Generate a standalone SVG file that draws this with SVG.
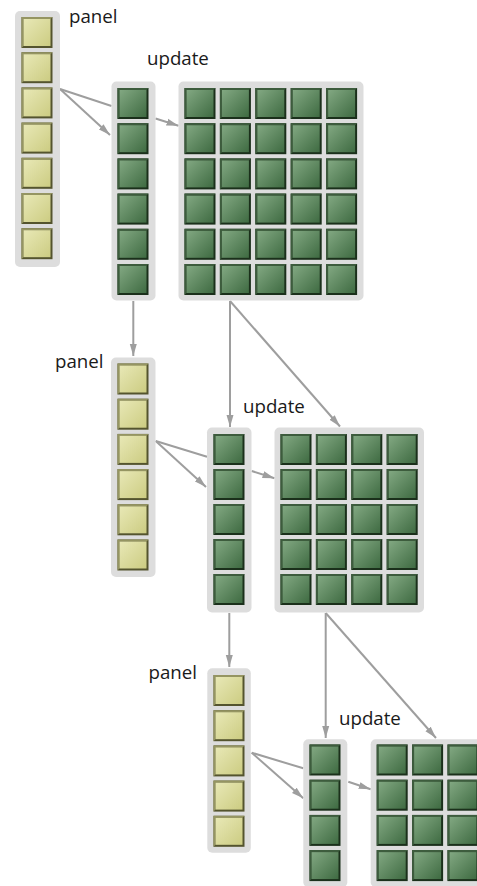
<svg xmlns="http://www.w3.org/2000/svg" xmlns:xlink="http://www.w3.org/1999/xlink" width="477" height="886" viewBox="0 0 477 886">
<style>
.bg{fill:#dddddd}
.lbl{font-family:"Open Sans","Noto Sans","DejaVu Sans",sans-serif;font-size:18.7px;fill:#1a1a1a}
.cn line{stroke:#9e9e9e;stroke-width:2;fill:none}
.ah{marker-end:url(#arr)}
</style>
<defs>
<linearGradient id="yg" x1="0" y1="0" x2="1" y2="1">
<stop offset="0" stop-color="#e8e8b6"/>
<stop offset="1" stop-color="#cccc82"/>
</linearGradient>
<linearGradient id="gg" x1="0" y1="0" x2="1" y2="1">
<stop offset="0" stop-color="#82a882"/>
<stop offset="1" stop-color="#3f6b42"/>
</linearGradient>
<g id="yc">
<rect width="31" height="31" fill="#54542e"/>
<path d="M0,0 H31 L29,2 H2 V29 L0,31 Z" fill="#959562"/>
<rect x="2" y="2" width="27" height="27" fill="url(#yg)"/>
</g>
<g id="gc">
<rect width="31" height="31" fill="#1b301b"/>
<path d="M0,0 H31 L29,2 H2 V29 L0,31 Z" fill="#3d5c3d"/>
<rect x="2" y="2" width="27" height="27" fill="url(#gg)"/>
</g>
<marker id="arr" markerUnits="userSpaceOnUse" viewBox="0 -4 12 8" markerWidth="12" markerHeight="8" refX="12" refY="0" orient="auto">
<path d="M0,-3.5 L12,0 L0,3.5 Z" fill="#9e9e9e"/>
</marker>
</defs>

<g id="connectors" class="cn">
<line x1="60" y1="89" x2="111.5" y2="106"/>
<line class="ah" x1="60" y1="89" x2="110" y2="135"/>
<line class="ah" x1="155.5" y1="118.5" x2="178.5" y2="125.7"/>
<line class="ah" x1="133.3" y1="301" x2="133.3" y2="356"/>
<line class="ah" x1="230" y1="301" x2="230" y2="427"/>
<line class="ah" x1="230" y1="301" x2="340" y2="426.5"/>
<line x1="155.7" y1="441" x2="207" y2="456.7"/>
<line class="ah" x1="155.7" y1="441" x2="206" y2="487"/>
<line class="ah" x1="251.7" y1="471" x2="274.5" y2="478.3"/>
<line class="ah" x1="229.3" y1="613" x2="229.3" y2="667"/>
<line class="ah" x1="325.7" y1="613" x2="325.7" y2="738"/>
<line class="ah" x1="325.7" y1="613" x2="436" y2="738"/>
<line x1="251.7" y1="752.7" x2="303.3" y2="768.3"/>
<line class="ah" x1="251.7" y1="752.7" x2="303.3" y2="798.3"/>
<line class="ah" x1="348.3" y1="781.7" x2="370.7" y2="789.3"/>
</g>

<g id="panel1">
<rect class="bg" x="15" y="11" width="45" height="256" rx="5"/>
<use href="#yc" x="21.5" y="17"/>
<use href="#yc" x="21.5" y="52.2"/>
<use href="#yc" x="21.5" y="87.4"/>
<use href="#yc" x="21.5" y="122.6"/>
<use href="#yc" x="21.5" y="157.8"/>
<use href="#yc" x="21.5" y="193"/>
<use href="#yc" x="21.5" y="228.2"/>
<text class="lbl" x="69" y="22.5">panel</text>
</g>

<g id="column1">
<rect class="bg" x="111.5" y="81.5" width="44" height="219" rx="5"/>
<use href="#gc" x="117.5" y="88"/>
<use href="#gc" x="117.5" y="123.2"/>
<use href="#gc" x="117.5" y="158.4"/>
<use href="#gc" x="117.5" y="193.6"/>
<use href="#gc" x="117.5" y="228.8"/>
<use href="#gc" x="117.5" y="264"/>
<text class="lbl" x="147" y="65">update</text>
</g>

<g id="matrix1">
<rect class="bg" x="178.5" y="81.5" width="185" height="219" rx="5"/>
<g id="m1r">
<use href="#gc" x="184.5" y="88"/>
<use href="#gc" x="219.9" y="88"/>
<use href="#gc" x="255.3" y="88"/>
<use href="#gc" x="290.7" y="88"/>
<use href="#gc" x="326.1" y="88"/>
</g>
<use href="#m1r" y="35.2"/>
<use href="#m1r" y="70.4"/>
<use href="#m1r" y="105.6"/>
<use href="#m1r" y="140.8"/>
<use href="#m1r" y="176"/>
</g>

<g id="panel2">
<rect class="bg" x="111" y="357.5" width="44.5" height="219.5" rx="5"/>
<use href="#yc" x="117.5" y="363.5"/>
<use href="#yc" x="117.5" y="398.7"/>
<use href="#yc" x="117.5" y="433.9"/>
<use href="#yc" x="117.5" y="469.1"/>
<use href="#yc" x="117.5" y="504.3"/>
<use href="#yc" x="117.5" y="539.5"/>
<text class="lbl" x="55" y="368">panel</text>
</g>

<g id="column2">
<rect class="bg" x="207" y="427.5" width="44.5" height="185" rx="5"/>
<use href="#gc" x="213.5" y="434"/>
<use href="#gc" x="213.5" y="469"/>
<use href="#gc" x="213.5" y="504"/>
<use href="#gc" x="213.5" y="539"/>
<use href="#gc" x="213.5" y="574"/>
<text class="lbl" x="243" y="413">update</text>
</g>

<g id="matrix2">
<rect class="bg" x="274.5" y="427.5" width="149.5" height="185" rx="5"/>
<g id="m2r">
<use href="#gc" x="280.5" y="434"/>
<use href="#gc" x="315.9" y="434"/>
<use href="#gc" x="351.3" y="434"/>
<use href="#gc" x="386.7" y="434"/>
</g>
<use href="#m2r" y="35"/>
<use href="#m2r" y="70"/>
<use href="#m2r" y="105"/>
<use href="#m2r" y="140"/>
</g>

<g id="panel3">
<rect class="bg" x="207.3" y="668.3" width="43.5" height="184.5" rx="5"/>
<use href="#yc" x="213.5" y="675"/>
<use href="#yc" x="213.5" y="710.2"/>
<use href="#yc" x="213.5" y="745.4"/>
<use href="#yc" x="213.5" y="780.6"/>
<use href="#yc" x="213.5" y="815.8"/>
<text class="lbl" x="148.5" y="679">panel</text>
</g>

<g id="column3">
<rect class="bg" x="303.3" y="739.3" width="44" height="148" rx="5"/>
<use href="#gc" x="309.5" y="744.5"/>
<use href="#gc" x="309.5" y="779.7"/>
<use href="#gc" x="309.5" y="814.9"/>
<use href="#gc" x="309.5" y="850.1"/>
<text class="lbl" x="339" y="725">update</text>
</g>

<g id="matrix3">
<rect class="bg" x="370.7" y="739.3" width="114" height="148" rx="5"/>
<g id="m3r">
<use href="#gc" x="376.7" y="744.5"/>
<use href="#gc" x="412.1" y="744.5"/>
<use href="#gc" x="447.5" y="744.5"/>
</g>
<use href="#m3r" y="35.2"/>
<use href="#m3r" y="70.4"/>
<use href="#m3r" y="105.6"/>
</g>
</svg>
